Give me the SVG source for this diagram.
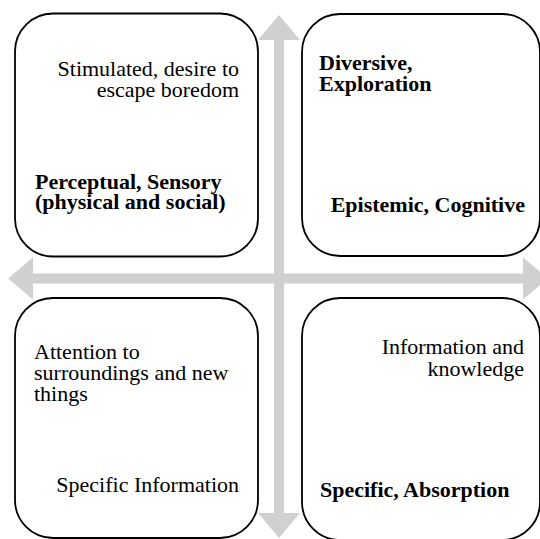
<svg xmlns="http://www.w3.org/2000/svg" width="540" height="539" viewBox="0 0 540 539">
<style>
.box{fill:#ffffff;stroke:#000000;stroke-width:1.8}
.arrow{fill:#d0d0d0;stroke:none}
.t{font-family:"Liberation Serif","Times New Roman",serif;font-size:22px;fill:#000}
.b{font-weight:bold}
.r{text-anchor:end}
</style>
<rect width="540" height="539" fill="#ffffff"/>
<g id="connectors">
<path class="arrow" d="M279,15 L300,40 L284,40 L284,513 L300,513 L279,538 L258,513 L274,513 L274,40 L258,40 Z"/>
<path class="arrow" d="M8,278.5 L33,257.5 L33,273.5 L523,273.5 L523,257.5 L548,278.5 L523,299.5 L523,283.5 L33,283.5 L33,299.5 Z"/>
</g>
<g id="node-tl">
<rect class="box" x="15" y="13.5" width="243" height="243" rx="38" ry="38"/>
<text class="t r" x="239" y="76">Stimulated, desire to</text>
<text class="t r" x="239" y="96.5">escape boredom</text>
<text class="t b" x="35" y="189">Perceptual, Sensory</text>
<text class="t b" x="35" y="208.5">(physical and social)</text>
</g>
<g id="node-tr">
<rect class="box" x="302" y="14" width="238" height="242" rx="38" ry="38"/>
<text class="t b" x="319" y="70">Diversive,</text>
<text class="t b" x="319" y="90.5">Exploration</text>
<text class="t b r" x="525" y="212">Epistemic, Cognitive</text>
</g>
<g id="node-bl">
<rect class="box" x="15" y="298" width="243" height="240" rx="38" ry="38"/>
<text class="t" x="34" y="359">Attention to</text>
<text class="t" x="34" y="380">surroundings and new</text>
<text class="t" x="34" y="400.5">things</text>
<text class="t r" x="239" y="492">Specific Information</text>
</g>
<g id="node-br">
<rect class="box" x="302" y="298" width="238" height="242" rx="38" ry="38"/>
<text class="t r" x="524" y="353.5">Information and</text>
<text class="t r" x="524" y="375.5">knowledge</text>
<text class="t b" x="320" y="497">Specific, Absorption</text>
</g>
</svg>
